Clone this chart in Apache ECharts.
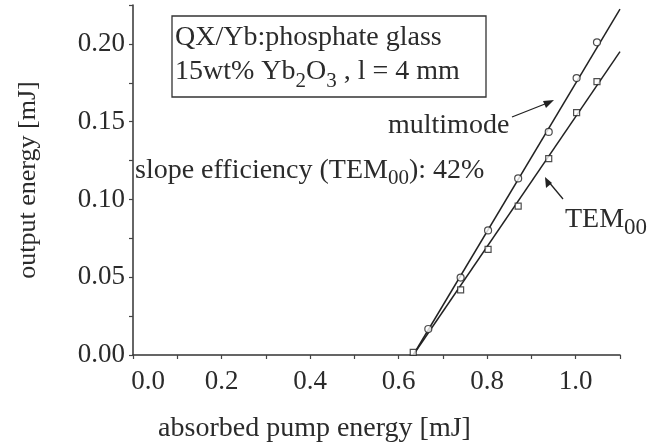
<!DOCTYPE html>
<html>
<head>
<meta charset="utf-8">
<script src="https://cdn.jsdelivr.net/npm/echarts@6/dist/echarts.min.js"></script>
<style>html,body{margin:0;padding:0;background:#fff;}#c{width:661px;height:448px;}</style>
</head>
<body>
<div id="c"></div>
<script>
// absorbed pump energy [mJ]
const multimodeX = [0.667, 0.740, 0.802, 0.870, 0.939, 1.002, 1.048];
const multimodeY = [0.0167, 0.0498, 0.0801, 0.1135, 0.1434, 0.178, 0.201];
const tem00X = [0.633, 0.740, 0.802, 0.870, 0.939, 1.002, 1.048];
const tem00Y = [0.0017, 0.0419, 0.0679, 0.0957, 0.1263, 0.1558, 0.1758];
// fitted lines (end points)
const multimodeFitX = [0.633, 1.1];
const multimodeFitY = [0.0, 0.2224];
const tem00FitX = [0.633, 1.1];
const tem00FitY = [0.0, 0.195];
const xTickLabels = ['0.0', '0.2', '0.4', '0.6', '0.8', '1.0'];
const yTickLabels = ['0.00', '0.05', '0.10', '0.15', '0.20'];

const zip = (xs, ys) => xs.map((x, i) => [x, ys[i]]);
const FONT = '"Liberation Serif", "DejaVu Serif", serif';
const INK = '#2b2b2b';

const chart = echarts.init(document.getElementById('c'), null, {renderer: 'canvas'});
const option = {
  backgroundColor: '#fff',
  animation: false,
  grid: {left: 133, right: 41, top: 5, bottom: 92},
  xAxis: {
    type: 'value', min: 0, max: 1.1, interval: 0.1,
    name: 'absorbed pump energy [mJ]', nameLocation: 'middle', nameGap: 60,
    nameTextStyle: {fontFamily: FONT, fontSize: 28, color: INK, padding: [0, 124, 0, 0]},
    axisLine: {lineStyle: {color: '#333', width: 1.5}},
    axisTick: {show: true, length: 4, lineStyle: {color: '#444', width: 1.2}},
    splitLine: {show: false},
    axisLabel: {
      margin: 13, fontFamily: FONT, fontSize: 27, color: INK,
      formatter: v => {
        const idx = Math.round(v * 10);
        if (idx % 2 !== 0) return '';
        const s = xTickLabels[idx / 2] || '';
        return idx === 0 ? '{z|' + s + '}' : s;
      },
      rich: {z: {fontFamily: FONT, fontSize: 27, color: INK, padding: [0, 0, 0, 30]}}
    }
  },
  yAxis: {
    type: 'value', min: 0, max: 0.225, interval: 0.025,
    name: 'output energy [mJ]', nameLocation: 'middle', nameGap: 92,
    nameTextStyle: {fontFamily: FONT, fontSize: 26, color: INK},
    axisLine: {show: true, lineStyle: {color: '#333', width: 1.5}},
    axisTick: {show: true, length: 4, lineStyle: {color: '#444', width: 1.2}},
    splitLine: {show: false},
    axisLabel: {
      margin: 8, fontFamily: FONT, fontSize: 27, color: INK,
      formatter: v => {
        const idx = Math.round(v * 40);
        if (idx % 2 !== 0) return '';
        return yTickLabels[idx / 2] || '';
      }
    }
  },
  series: [
    {type: 'line', data: zip(multimodeFitX, multimodeFitY), showSymbol: false,
     lineStyle: {color: '#222', width: 1.5}, z: 2},
    {type: 'line', data: zip(tem00FitX, tem00FitY), showSymbol: false,
     lineStyle: {color: '#222', width: 1.5}, z: 2},
    {type: 'scatter', data: zip(multimodeX, multimodeY), symbol: 'circle', symbolSize: 7,
     itemStyle: {color: '#fff', borderColor: '#222', borderWidth: 1.2}, z: 3},
    {type: 'scatter', data: zip(tem00X, tem00Y), symbol: 'rect', symbolSize: 6,
     itemStyle: {color: '#fff', borderColor: '#222', borderWidth: 1.2}, z: 3}
  ],
  graphic: [
    {type: 'rect', shape: {x: 172, y: 16, width: 314, height: 81},
     style: {fill: 'none', stroke: '#333', lineWidth: 1.3}},
    {type: 'text', x: 175, y: 24,
     style: {text: 'QX/Yb:phosphate glass', fontFamily: FONT, fontSize: 28, fill: INK}},
    {type: 'text', x: 175, y: 51,
     style: {text: '15wt% Yb{s|2}O{s|3} , l = 4 mm', fontFamily: FONT, fontSize: 28, fill: INK,
       rich: {s: {fontFamily: FONT, fontSize: 21, fill: INK, padding: [20, 0, 0, 0]}}}},
    {type: 'text', x: 388, y: 112,
     style: {text: 'multimode', fontFamily: FONT, fontSize: 28, fill: INK}},
    {type: 'text', x: 135, y: 152,
     style: {text: 'slope efficiency (TEM{s|00}): 42%', fontFamily: FONT, fontSize: 28, fill: INK,
       rich: {s: {fontFamily: FONT, fontSize: 21, fill: INK, padding: [16, 0, 0, 0]}}}},
    {type: 'text', x: 565, y: 200,
     style: {text: 'TEM{s|00}', fontFamily: FONT, fontSize: 28, fill: INK,
       rich: {s: {fontFamily: FONT, fontSize: 23, fill: INK, padding: [16, 0, 0, 0]}}}},
    {type: 'line', shape: {x1: 512, y1: 117, x2: 550, y2: 102}, style: {stroke: '#222', lineWidth: 1.3}},
    {type: 'polygon', shape: {points: [[554, 100], [543, 101], [546, 108]]}, style: {fill: '#222'}},
    {type: 'line', shape: {x1: 563, y1: 199, x2: 548, y2: 181}, style: {stroke: '#222', lineWidth: 1.3}},
    {type: 'polygon', shape: {points: [[545, 177], [546, 188], [552, 183]]}, style: {fill: '#222'}}
  ]
};
chart.setOption(option);
</script>
</body>
</html>
